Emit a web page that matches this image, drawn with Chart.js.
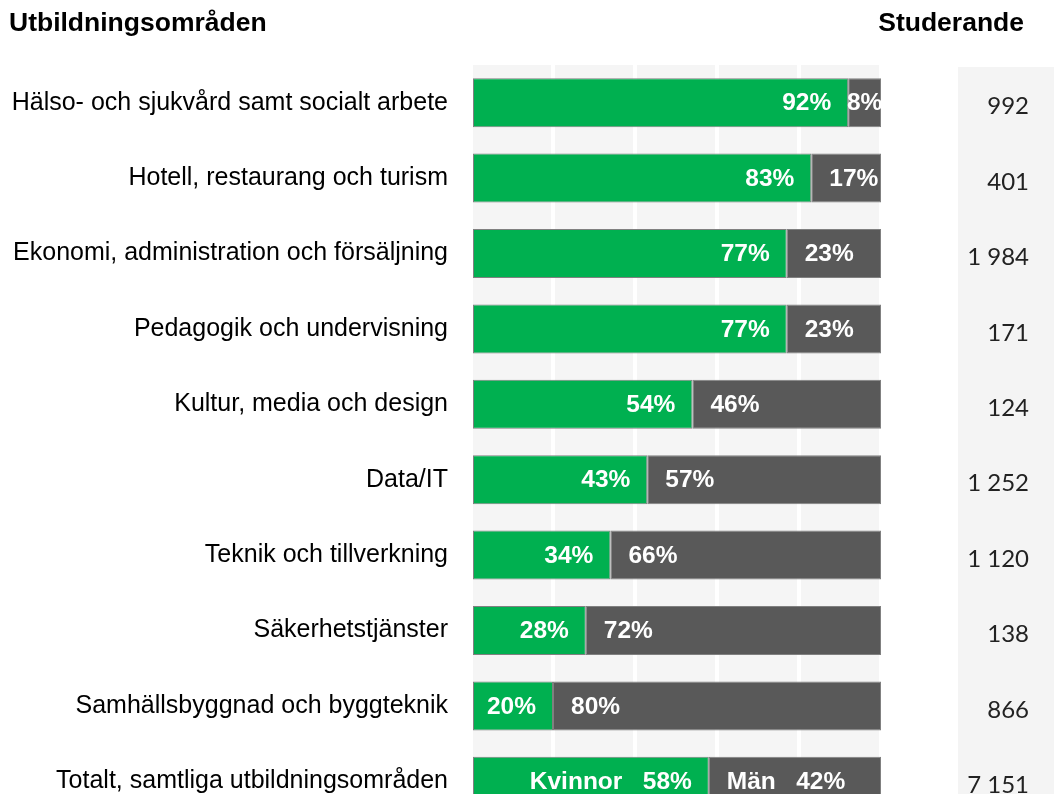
<!DOCTYPE html>
<html>
<head>
<meta charset="utf-8">
<script src="https://cdn.jsdelivr.net/npm/chart.js@4"></script>
<style>
  html, body { margin: 0; padding: 0; background: #fff; overflow: hidden; }
  #genderChart { position: absolute; left: 0; top: 0; }
</style>
</head>
<body>
<canvas id="genderChart" width="1054" height="857"></canvas>
<script>
const categories = [
    'Hälso- och sjukvård samt socialt arbete',
    'Hotell, restaurang och turism',
    'Ekonomi, administration och försäljning',
    'Pedagogik och undervisning',
    'Kultur, media och design',
    'Data/IT',
    'Teknik och tillverkning',
    'Säkerhetstjänster',
    'Samhällsbyggnad och byggteknik',
    'Totalt, samtliga utbildningsområden'
];
const kvinnor = [92, 83, 77, 77, 54, 43, 34, 28, 20, 58];
const man = [8, 17, 23, 23, 46, 57, 66, 72, 80, 42];
const studerande = [992, 401, 1984, 171, 124, 1252, 1120, 138, 866, 7151];
const seriesNames = ['Kvinnor', 'Män'];
const xTicks = [0, 20, 40, 60, 80, 100];

const labelFont = '"Liberation Sans", Arial, sans-serif';

function formatCount(n) {
    return String(n).replace(/\B(?=(\d{3})+(?!\d))/g, ' ');
}

// background panels, headers, studerande column
const decorPlugin = {
    id: 'decor',
    beforeDraw(chart) {
        const { ctx, chartArea } = chart;
        ctx.save();
        ctx.fillStyle = '#f5f5f5';
        ctx.fillRect(chartArea.left, chartArea.top, chartArea.right - chartArea.left, chartArea.bottom - chartArea.top);
        ctx.fillStyle = '#f4f4f4';
        ctx.fillRect(958, chartArea.top + 2, chart.width - 958, chart.height);
        ctx.restore();
    },
    afterDraw(chart) {
        const { ctx } = chart;
        const yScale = chart.scales.y;
        ctx.save();
        ctx.fillStyle = '#000';
        ctx.font = 'bold 26.5px ' + labelFont;
        ctx.textBaseline = 'middle';
        ctx.textAlign = 'left';
        ctx.fillText('Utbildningsområden', 9, 24);
        ctx.textAlign = 'right';
        ctx.fillText('Studerande', 1024, 24);

        ctx.font = '24px Lato, "DejaVu Sans", sans-serif';
        ctx.fillStyle = '#222';
        studerande.forEach((v, i) => {
            ctx.fillText(formatCount(v), 1029, yScale.getPixelForValue(i) + 4);
        });
        ctx.restore();
    }
};

// percentage labels inside the bars
const barLabelPlugin = {
    id: 'barLabels',
    afterDatasetsDraw(chart) {
        const { ctx } = chart;
        ctx.save();
        ctx.font = 'bold 24.5px ' + labelFont;
        ctx.fillStyle = '#fff';
        ctx.textBaseline = 'middle';
        const last = categories.length - 1;
        chart.data.datasets.forEach((ds, di) => {
            const meta = chart.getDatasetMeta(di);
            meta.data.forEach((bar, i) => {
                let text = ds.data[i] + '%';
                if (i === last) text = seriesNames[di] + '   ' + text;
                const w = ctx.measureText(text).width;
                const left = Math.min(bar.base, bar.x);
                const right = Math.max(bar.base, bar.x);
                if (di === 0) {
                    ctx.textAlign = 'right';
                    ctx.fillText(text, right - 17, bar.y + 1);
                } else if (w + 20 > right - left) {
                    ctx.textAlign = 'center';
                    ctx.fillText(text, (left + right) / 2, bar.y + 1);
                } else {
                    ctx.textAlign = 'left';
                    ctx.fillText(text, left + 18, bar.y + 1);
                }
            });
        });
        ctx.restore();
    }
};

const ctx = document.getElementById('genderChart').getContext('2d');
const chart = new Chart(ctx, {
    type: 'bar',
    data: {
        labels: categories,
        datasets: [{
            label: seriesNames[0],
            data: kvinnor,
            backgroundColor: '#00b050',
            borderColor: '#808080',
            borderWidth: 1,
            borderSkipped: false
        }, {
            label: seriesNames[1],
            data: man,
            backgroundColor: '#595959',
            borderColor: '#808080',
            borderWidth: 1,
            borderSkipped: false
        }]
    },
    options: {
        indexAxis: 'y',
        responsive: false,
        animation: false,
        layout: {
            padding: { left: 0, right: 173, top: 65, bottom: 11 }
        },
        plugins: {
            legend: { display: false },
            tooltip: { enabled: false }
        },
        scales: {
            x: {
                stacked: true,
                min: 0,
                max: 100,
                afterBuildTicks(scale) {
                    scale.ticks = xTicks.map(v => ({ value: v }));
                },
                afterFit(scale) { scale.height = 0; },
                ticks: { display: false, padding: 0 },
                border: { display: false },
                grid: { color: '#ffffff', lineWidth: 4, drawTicks: false }
            },
            y: {
                stacked: true,
                afterFit(scale) { scale.width = 471; },
                ticks: {
                    color: '#000',
                    padding: 23,
                    font: { family: labelFont, size: 25 }
                },
                border: { display: false },
                grid: { display: false, drawTicks: false }
            }
        },
        datasets: {
            bar: { categoryPercentage: 0.65, barPercentage: 1 }
        }
    },
    plugins: [decorPlugin, barLabelPlugin]
});
</script>
</body>
</html>
